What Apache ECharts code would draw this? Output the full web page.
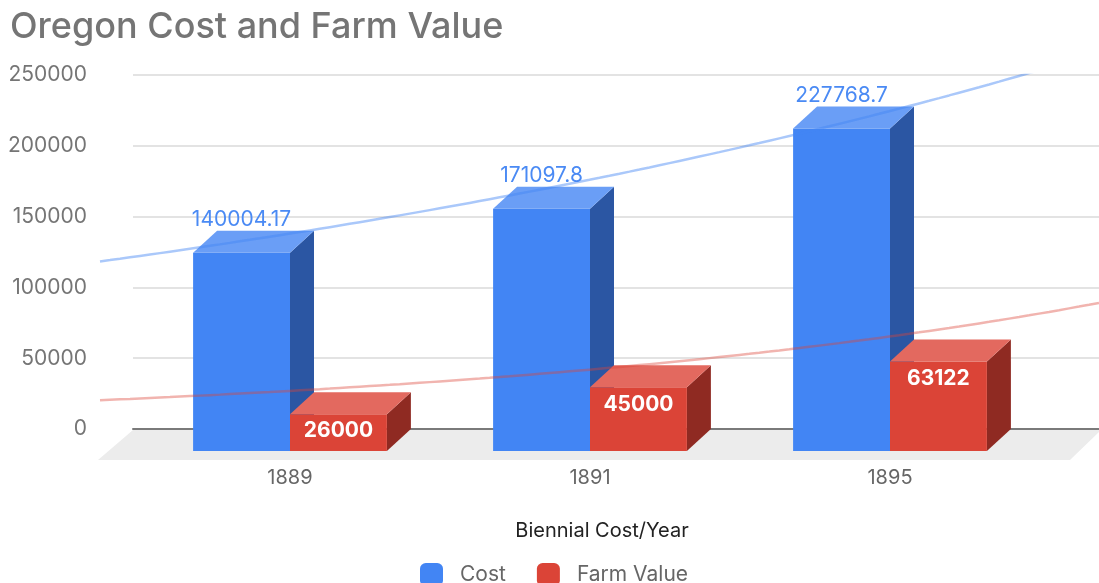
<!DOCTYPE html>
<html>
<head>
<meta charset="utf-8">
<script src="https://cdn.jsdelivr.net/npm/echarts@6/dist/echarts.min.js"></script>
<style>
  html, body { margin: 0; padding: 0; background: #fff; }
  #main { width: 1099px; height: 583px; }
</style>
</head>
<body>
<div id="main"></div>
<script>
// chart data
const years = ['1889', '1891', '1895'];
const cost = [140004.17, 171097.8, 227768.7];
const farmValue = [26000, 45000, 63122];
const yTicks = [0, 50000, 100000, 150000, 200000, 250000];

const FONT = 'Inter';
const DX = 24, DY = 22; // fake 3d depth

// exponential trendline (least squares on ln y), like the sheet's trendline
function expFit(vals) {
  const n = vals.length;
  const xs = vals.map((v, i) => i);
  const ls = vals.map(v => Math.log(v));
  const mx = xs.reduce((a, b) => a + b, 0) / n;
  const ml = ls.reduce((a, b) => a + b, 0) / n;
  let sxy = 0, sxx = 0;
  for (let i = 0; i < n; i++) {
    sxy += (xs[i] - mx) * (ls[i] - ml);
    sxx += (xs[i] - mx) * (xs[i] - mx);
  }
  const b = sxy / sxx;
  const a = ml - b * mx;
  return x => Math.exp(a + b * x);
}
const trendMin = -190 / 300, trendMax = trendMin + 999 / 300;
function trendPoints(vals) {
  const f = expFit(vals);
  const pts = [];
  for (let i = 0; i <= 100; i++) {
    const x = trendMin + (trendMax - trendMin) * i / 100;
    pts.push([x, f(x)]);
  }
  return pts;
}

function barRenderer(offset, colors, label) {
  return function (params, api) {
    const cat = api.value(0), val = api.value(1);
    const back = api.coord([cat, val]);
    const base = api.coord([cat, 0]);
    const w = api.size([1, 0])[0] * 0.323;
    const x0 = back[0] + offset * w, x1 = x0 + w;
    const yt = back[1] + DY, yb = base[1] + DY;
    const kids = [
      { type: 'polygon', shape: { points: [[x1, yt], [x1 + DX, yt - DY], [x1 + DX, yb - DY], [x1, yb]] }, style: { fill: colors.side } },
      { type: 'rect', shape: { x: x0, y: yt, width: w, height: yb - yt }, style: { fill: colors.front } },
      { type: 'polygon', shape: { points: [[x0, yt], [x0 + DX, yt - DY], [x1 + DX, yt - DY], [x1, yt]] }, style: { fill: colors.top } }
    ];
    const txt = String(val);
    if (label === 'above') {
      kids.push({ type: 'text', style: { text: txt, x: (x0 + x1) / 2, y: yt - DY - 11, align: 'center', verticalAlign: 'middle',
        fill: '#4a8af4', font: '21px ' + FONT } });
    } else {
      kids.push({ type: 'text', style: { text: txt, x: (x0 + x1) / 2, y: yt + 17, align: 'center', verticalAlign: 'middle',
        fill: '#ffffff', font: 'bold 21px ' + FONT } });
    }
    return { type: 'group', children: kids };
  };
}

const chart = echarts.init(document.getElementById('main'));
chart.setOption({
  animation: false,
  textStyle: { fontFamily: FONT },
  title: {
    text: 'Oregon Cost and Farm Value',
    left: 5, top: 4,
    textStyle: { fontSize: 36, fontWeight: 500, color: '#757575', fontFamily: FONT }
  },
  legend: {
    data: ['Cost', 'Farm Value'],
    left: 415, top: 558,
    icon: 'roundRect',
    itemWidth: 23, itemHeight: 23, itemGap: 31,
    textStyle: { fontSize: 21, color: '#666', padding: [0, 0, 0, 12], fontFamily: FONT }
  },
  graphic: [{
    type: 'polygon', z: -1,
    shape: { points: [[133, 430], [1101, 430], [1070, 460], [98, 460]] },
    style: { fill: '#ececec' }
  }],
  grid: [
    { left: 133, right: 0, top: 75, height: 354 },
    { left: 140, width: 900, top: 75, height: 354 },
    { left: 100, right: 0, top: 75, height: 354 }
  ],
  xAxis: [
    { gridIndex: 0, type: 'value', min: 0, max: 1, axisLine: { show: true, lineStyle: { color: '#7a7a7a', width: 2 } },
      axisTick: { show: false }, axisLabel: { show: false }, splitLine: { show: false } },
    { gridIndex: 1, type: 'category', data: years, axisLine: { show: false }, axisTick: { show: false },
      axisLabel: { fontSize: 20, color: '#666', margin: 39, fontFamily: FONT },
      name: 'Biennial Cost/Year', nameLocation: 'middle', nameGap: 92,
      nameTextStyle: { fontSize: 20, color: '#222', padding: [0, 0, 0, 24], fontFamily: FONT } },
    { gridIndex: 2, type: 'value', min: trendMin, max: trendMax, show: false }
  ],
  yAxis: [
    { gridIndex: 0, type: 'value', min: yTicks[0], max: yTicks[yTicks.length - 1], interval: yTicks[1] - yTicks[0],
      axisLine: { show: false }, axisTick: { show: false },
      axisLabel: { fontSize: 21, color: '#757575', margin: 46, fontFamily: FONT, formatter: v => String(v) },
      splitLine: { lineStyle: { color: '#dadada', width: 1.5 } } },
    { gridIndex: 1, type: 'value', min: 0, max: 250000, show: false },
    { gridIndex: 2, type: 'value', min: 0, max: 250000, show: false }
  ],
  series: [
    { name: 'Cost', type: 'custom', xAxisIndex: 1, yAxisIndex: 1, z: 3,
      itemStyle: { color: '#4285f4' },
      renderItem: barRenderer(-1, { front: '#4285f4', top: '#6a9ef6', side: '#2b56a3' }, 'above'),
      data: cost.map((v, i) => [i, v]) },
    { name: 'Farm Value', type: 'custom', xAxisIndex: 1, yAxisIndex: 1, z: 3,
      itemStyle: { color: '#db4437' },
      renderItem: barRenderer(0, { front: '#db4437', top: '#e3695f', side: '#8f2a22' }, 'inside'),
      data: farmValue.map((v, i) => [i, v]) },
    { name: 'Cost trend', type: 'line', xAxisIndex: 2, yAxisIndex: 2, z: 4, showSymbol: false, silent: true,
      lineStyle: { color: '#4285f4', opacity: 0.45, width: 2.5 }, data: trendPoints(cost) },
    { name: 'Farm trend', type: 'line', xAxisIndex: 2, yAxisIndex: 2, z: 4, showSymbol: false, silent: true,
      lineStyle: { color: '#db4437', opacity: 0.4, width: 2.5 }, data: trendPoints(farmValue) }
  ]
});
</script>
</body>
</html>
